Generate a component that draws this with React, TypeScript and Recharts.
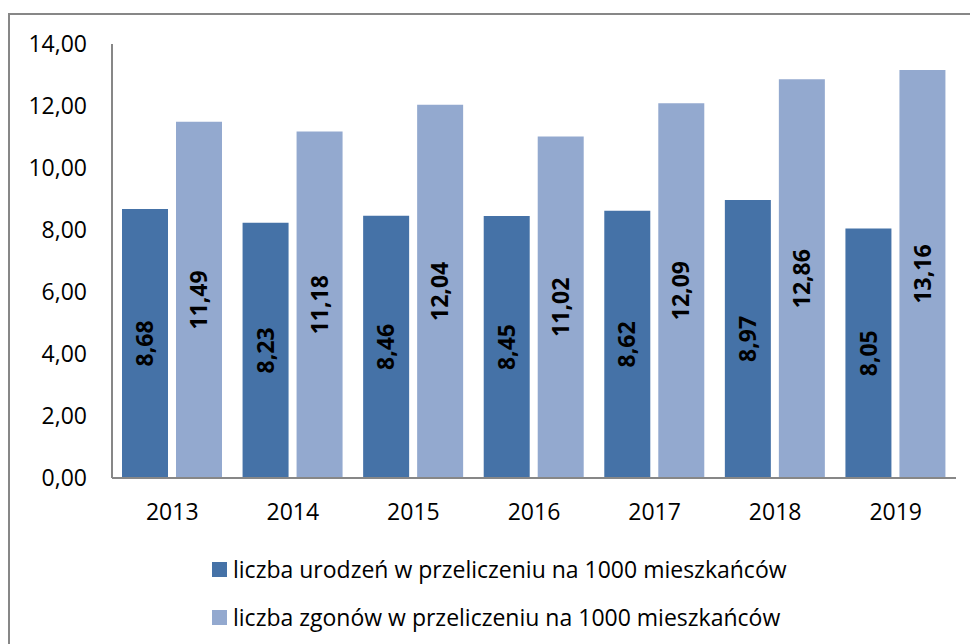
import { BarChart, Bar, XAxis, YAxis, LabelList } from 'recharts'

const years = ['2013', '2014', '2015', '2016', '2017', '2018', '2019']
const births = [8.68, 8.23, 8.46, 8.45, 8.62, 8.97, 8.05]
const deaths = [11.49, 11.18, 12.04, 11.02, 12.09, 12.86, 13.16]
const yTicks = [0, 2, 4, 6, 8, 10, 12, 14]
const birthsName = 'liczba urodzeń w przeliczeniu na 1000 mieszkańców'
const deathsName = 'liczba zgonów w przeliczeniu na 1000 mieszkańców'

const DARK = '#4572A7'
const LIGHT = '#93A9CF'
const AXIS = '#878787'
const FONT = '"Open Sans", "Noto Sans", sans-serif'

const fmt = (v: number) => v.toFixed(2).replace('.', ',')

export default function App() {
  const data = years.map((y, i) => ({ year: y, births: births[i], deaths: deaths[i] }))

  return (
    <div style={{ position: 'absolute', left: 0, top: 0, width: 970, height: 644, overflow: 'hidden', background: '#fff', fontFamily: FONT }}>
      <div style={{ position: 'absolute', left: 8, top: 13, width: 1000, height: 700, border: `2px solid ${AXIS}` }} />
      <div style={{ position: 'absolute', left: 0, top: 0 }}>
        <BarChart width={970} height={644} data={data} margin={{ top: 44, right: 14, bottom: 0, left: 0 }} barSize={46} barGap={8}>
          <XAxis
            dataKey="year"
            height={166}
            tickLine={false}
            tickSize={0}
            tickMargin={26}
            stroke={AXIS}
            strokeWidth={2}
            tick={{ fill: '#000', fontSize: 23, fontFamily: FONT }}
          />
          <YAxis
            width={112}
            domain={[0, 14]}
            ticks={yTicks}
            tickFormatter={fmt}
            tickLine={false}
            tickSize={0}
            tickMargin={25}
            stroke={AXIS}
            strokeWidth={2}
            tick={{ fill: '#000', fontSize: 23, fontFamily: FONT }}
          />
          <Bar dataKey="births" name={birthsName} fill={DARK} isAnimationActive={false}>
            <LabelList dataKey="births" position="center" angle={-90} formatter={(v: any) => fmt(v)} style={{ fill: '#000', fontSize: 23, fontWeight: 700, fontFamily: FONT }} />
          </Bar>
          <Bar dataKey="deaths" name={deathsName} fill={LIGHT} isAnimationActive={false}>
            <LabelList dataKey="deaths" position="center" angle={-90} formatter={(v: any) => fmt(v)} style={{ fill: '#000', fontSize: 23, fontWeight: 700, fontFamily: FONT }} />
          </Bar>
        </BarChart>
      </div>
      {[
        { name: birthsName, color: DARK, top: 554 },
        { name: deathsName, color: LIGHT, top: 602 },
      ].map(item => (
        <div key={item.name} style={{ position: 'absolute', left: 212, top: item.top, height: 30, display: 'flex', alignItems: 'center', fontSize: 23, color: '#000', whiteSpace: 'nowrap' }}>
          <span style={{ display: 'inline-block', width: 15, height: 15, background: item.color, marginRight: 6 }} />
          {item.name}
        </div>
      ))}
    </div>
  )
}
